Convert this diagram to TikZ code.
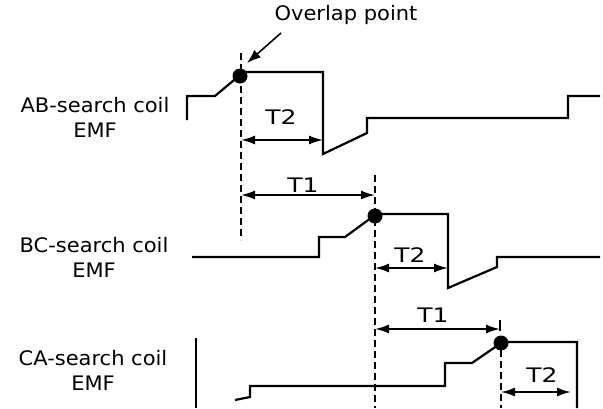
\documentclass[tikz,border=0pt]{standalone}
\usepackage{fontspec}
\newfontfamily\labfont[FakeStretch=1.05]{DejaVu Sans}
\newfontfamily\tfont[FakeStretch=1.25]{DejaVu Sans}
\usetikzlibrary{arrows.meta}
\begin{document}
\begin{tikzpicture}[x=1pt,y=-1pt,
  wave/.style={line width=2.2pt, line join=miter},
  guide/.style={line width=1.5pt, dash pattern=on 7pt off 4pt},
  dim/.style={line width=1.8pt, {Latex[length=14pt,width=9pt]}-{Latex[length=14pt,width=9pt]}},
  lab/.style={font=\labfont\fontsize{20}{25}\selectfont, align=center, inner sep=0pt},
  olab/.style={font=\labfont\fontsize{20}{22}\selectfont, inner sep=0pt},
  tlab/.style={font=\tfont\fontsize{20}{22}\selectfont, inner sep=0pt},
  dot/.style={circle, fill=black, inner sep=0pt, minimum size=15pt}]
\useasboundingbox (0,0) rectangle (603,408);

% left labels
\node[lab] (labAB) at (95,117) {AB-search coil\\EMF};
\node[lab] (labBC) at (94,257) {BC-search coil\\EMF};
\node[lab] (labCA) at (93,370) {CA-search coil\\EMF};

% guide lines
\coordinate (g1t) at (241,53);  \coordinate (g1b) at (241,240);
\coordinate (g2t) at (375,175); \coordinate (g2b) at (375,408);
\coordinate (g3t) at (501,350); \coordinate (g3b) at (501,408);
\draw[guide] (g1t) -- (g1b);
\draw[guide] (g2t) -- (g2b);
\draw[guide] (g3t) -- (g3b);

% AB waveform
\draw[wave] (187,120) -- (187,96) -- (215,96) -- (240,75) -- (240,72) -- (323,72)
  -- (323,154) -- (367,133) -- (367,118) -- (568,118) -- (568,96) -- (600,96);
% BC waveform
\draw[wave] (192,257) -- (319,257) -- (319,237) -- (345,237) -- (375,215) -- (375,214)
  -- (448,214) -- (448,288) -- (497,267) -- (497,257) -- (600,257);
% CA waveform
\draw[wave] (196,338) -- (196,408);
\draw[wave] (235,400) -- (250,397) -- (250,386) -- (445,386) -- (445,363) -- (472,363)
  -- (501,343) -- (501,342) -- (577,342) -- (577,408);
\draw[line width=1.5pt] (500,320) -- (500,331);

% overlap dots
\node[dot] (dAB) at (240,76) {};
\node[dot] (dBC) at (375,216) {};
\node[dot] (dCA) at (501,343) {};

% overlap label
\node[olab] (ov) at (346,15) {Overlap point};
\coordinate (ovs) at (281,33);
\coordinate (ove) at (247,63);
\draw[line width=1.6pt, -{Latex[length=14pt,width=10pt]}] (ovs) -- (ove);

% dimensions
\coordinate (a1) at (241,140); \coordinate (a2) at (323,140);
\draw[dim] (a1) -- (a2);
\node[tlab] (t2a) at (281,117) {T2};

\coordinate (b1) at (241,195); \coordinate (b2) at (375,195);
\draw[dim] (b1) -- (b2);
\node[tlab] (t1b) at (303,185) {T1};

\coordinate (c1) at (375,268); \coordinate (c2) at (448,268);
\draw[dim] (c1) -- (c2);
\node[tlab] (t2c) at (410,255) {T2};

\coordinate (d1) at (375,329); \coordinate (d2) at (500,329);
\draw[dim] (d1) -- (d2);
\node[tlab] (t1d) at (433,315) {T1};

\coordinate (e1) at (501,392); \coordinate (e2) at (571,392);
\draw[dim] (e1) -- (e2);
\node[tlab] (t2e) at (542,375) {T2};
\end{tikzpicture}
\end{document}
